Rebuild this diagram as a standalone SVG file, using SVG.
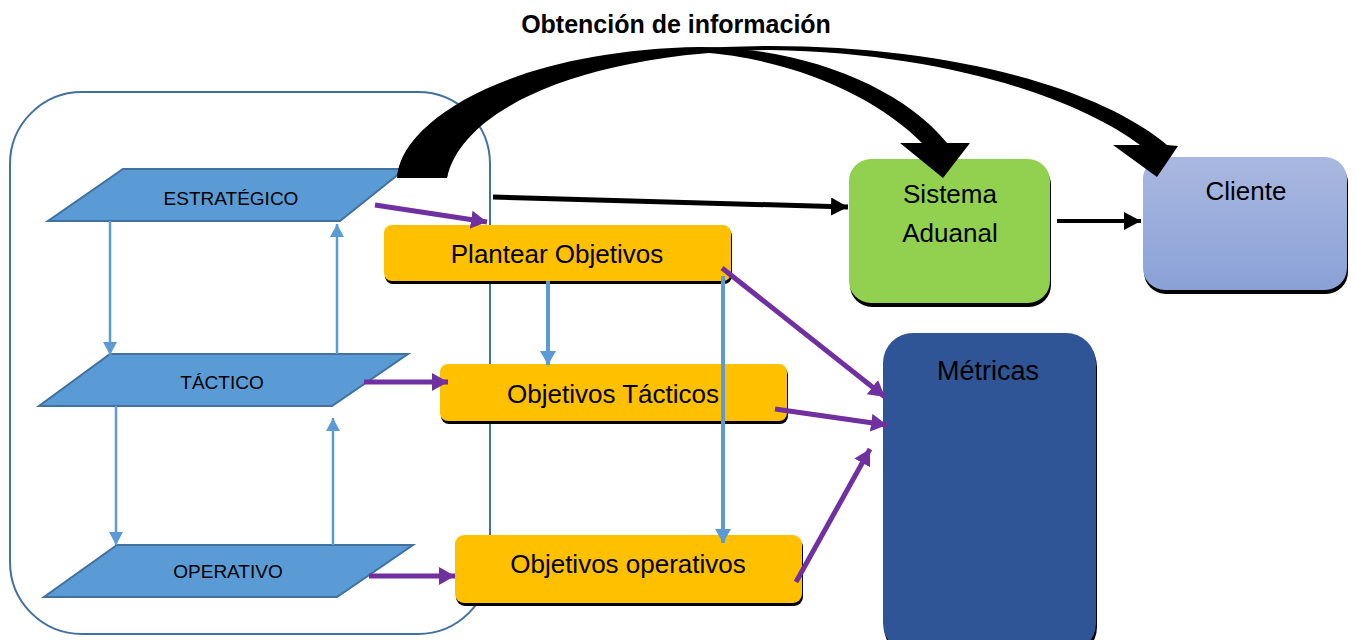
<svg xmlns="http://www.w3.org/2000/svg" width="1357" height="640" viewBox="0 0 1357 640">
<style>
text{font-family:"Liberation Sans",Arial,sans-serif;fill:#000;text-anchor:middle}
.lvl{fill:#5B9BD5;stroke:#41719C;stroke-width:2}
.lvlt{font-size:19px}
.obj{fill:#FFC000}
.shadow{fill:#000}
.objt{font-size:26px}
.big{font-size:26px}
.blue{stroke:#5B9BD5;stroke-width:2.5;fill:none}
.bluet{stroke:#5B9BD5;stroke-width:4;fill:none}
.purple{stroke:#7030A0;stroke-width:5;fill:none}
.blk{stroke:#000;stroke-width:5;fill:none}
</style>
<defs>
<marker id="mb" markerUnits="userSpaceOnUse" markerWidth="16" markerHeight="16" refX="13" refY="7" orient="auto"><path d="M0,0 L13,7 L0,14 Z" fill="#5B9BD5"/></marker>
<marker id="mbt" markerUnits="userSpaceOnUse" markerWidth="18" markerHeight="18" refX="14" refY="8" orient="auto"><path d="M0,0 L14,8 L0,16 Z" fill="#5B9BD5"/></marker>
<marker id="mp" markerUnits="userSpaceOnUse" markerWidth="20" markerHeight="20" refX="16" refY="9" orient="auto"><path d="M0,0 L16,9 L0,18 Z" fill="#7030A0"/></marker>
<marker id="mk" markerUnits="userSpaceOnUse" markerWidth="20" markerHeight="20" refX="17" refY="9" orient="auto"><path d="M0,0 L17,9 L0,18 Z" fill="#000"/></marker>
<linearGradient id="gc" x1="0" y1="0" x2="0" y2="1"><stop offset="0" stop-color="#A9B8E0"/><stop offset="1" stop-color="#8AA1D7"/></linearGradient>
</defs>

<g id="container"><rect x="10" y="92" width="480" height="542" rx="72" ry="72" fill="none" stroke="#41719C" stroke-width="2"/></g>

<g id="estrategico"><polygon class="lvl" points="123,169 405,169 340,221 48,221"/><text class="lvlt" x="231" y="205">ESTRATÉGICO</text></g>
<g id="tactico"><polygon class="lvl" points="110,354 408,354 332,406 39,406"/><text class="lvlt" x="222" y="389">TÁCTICO</text></g>
<g id="operativo"><polygon class="lvl" points="117,545 413,545 337,597 44,597"/><text class="lvlt" x="228" y="578">OPERATIVO</text></g>

<g id="plantear"><rect class="shadow" x="385" y="228" width="347" height="56" rx="8"/><rect class="obj" x="384" y="225" width="347" height="56" rx="8"/><text class="objt" x="557" y="263">Plantear Objetivos</text></g>
<g id="obj-tacticos"><rect class="shadow" x="441" y="367" width="347" height="57" rx="8"/><rect class="obj" x="440" y="364" width="347" height="57" rx="8"/><text class="objt" x="613" y="403">Objetivos Tácticos</text></g>
<g id="obj-operativos"><rect class="shadow" x="456" y="538" width="347" height="68" rx="9"/><rect class="obj" x="455" y="535" width="347" height="68" rx="9"/><text class="objt" x="628" y="573">Objetivos operativos</text></g>

<g id="sistema"><rect class="shadow" x="850" y="163" width="201" height="144" rx="22"/><rect x="849" y="159" width="201" height="144" rx="22" fill="#92D050"/><text class="big" x="950" y="203">Sistema</text><text class="big" x="950" y="242">Aduanal</text></g>
<g id="cliente"><rect class="shadow" x="1144" y="161" width="204" height="133" rx="22"/><rect x="1143" y="157" width="204" height="133" rx="22" fill="url(#gc)"/><text class="big" x="1246" y="200">Cliente</text></g>
<g id="metricas"><rect class="shadow" x="884" y="337" width="213" height="320" rx="30"/><rect x="883" y="333" width="213" height="320" rx="30" fill="#2F5597"/><text class="big" x="988" y="380" style="font-size:27px">Métricas</text></g>

<text id="title" x="676" y="33" style="font-size:25px;font-weight:bold">Obtención de información</text>

<g id="connectors">
<line class="blue" x1="110" y1="221" x2="110" y2="355" marker-end="url(#mb)"/>
<line class="blue" x1="337" y1="354" x2="337" y2="224" marker-end="url(#mb)"/>
<line class="blue" x1="116" y1="406" x2="116" y2="545" marker-end="url(#mb)"/>
<line class="blue" x1="333" y1="545" x2="333" y2="418" marker-end="url(#mb)"/>
<line class="bluet" x1="548" y1="281" x2="548" y2="365" marker-end="url(#mbt)"/>
<line class="bluet" x1="723" y1="276" x2="723" y2="543" marker-end="url(#mbt)"/>
<line class="purple" x1="375" y1="205" x2="487" y2="222" marker-end="url(#mp)"/>
<line class="purple" x1="364" y1="382" x2="448" y2="382" marker-end="url(#mp)"/>
<line class="purple" x1="369" y1="576" x2="455" y2="576" marker-end="url(#mp)"/>
<line class="purple" x1="722" y1="268" x2="885" y2="397" marker-end="url(#mp)"/>
<line class="purple" x1="775" y1="409" x2="887" y2="425" marker-end="url(#mp)"/>
<line class="purple" x1="796" y1="582" x2="870" y2="449" marker-end="url(#mp)"/>
<line class="blk" x1="493" y1="197" x2="848" y2="207" marker-end="url(#mk)"/>
<line stroke="#000" stroke-width="4" x1="1057" y1="221" x2="1141" y2="221" marker-end="url(#mk)"/>
<path fill="#000" d="M397,178 C403,115 520,50 700,47 C800,47 900,85 947,143 L970,143 L943,178 L900,143 L922,143 C880,100 800,60 700,52 C555,55 455,100 447,178 Z"/>
<path fill="#000" d="M397,176 C406,108 535,48 770,46 C950,46 1100,88 1167,145 L1178,146 L1157,177 L1113,145 L1140,145 C1080,100 950,53 770,50 C585,53 462,108 447,178 Z"/>
</g>
</svg>
